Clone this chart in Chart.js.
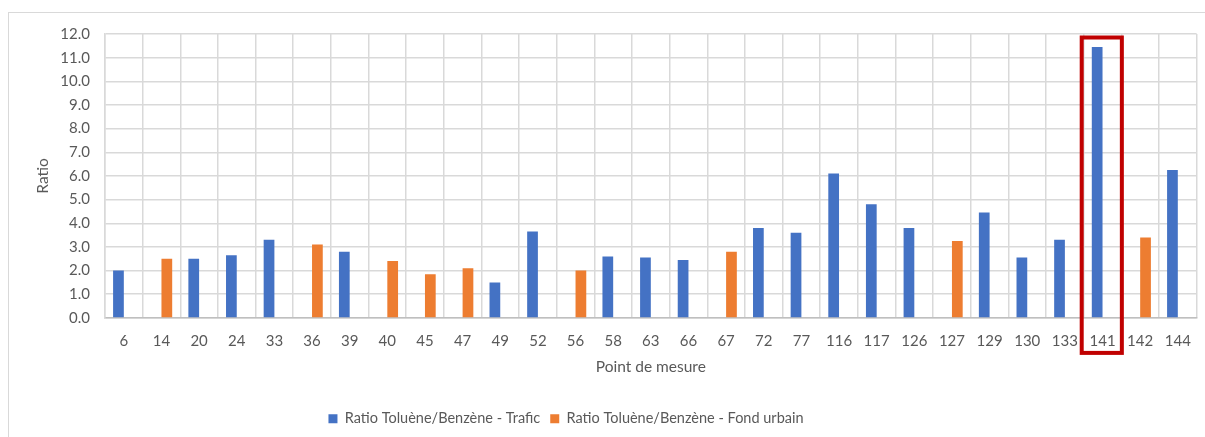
<!DOCTYPE html>
<html>
<head>
<meta charset="utf-8">
<script src="https://cdn.jsdelivr.net/npm/chart.js@4/dist/chart.umd.min.js"></script>
<style>
  html, body { margin: 0; padding: 0; background: #fff; }
  #wrap { position: absolute; left: 0; top: 0; width: 1205px; height: 437px; }
</style>
</head>
<body>
<div id="wrap"><canvas id="graf"></canvas></div>
<script>
// données
const pointsMesure = ['6', '14', '20', '24', '33', '36', '39', '40', '45', '47', '49', '52', '56', '58', '63',
  '66', '67', '72', '77', '116', '117', '126', '127', '129', '130', '133', '141', '142', '144'];

const ratioTrafic = [2.0, null, 2.5, 2.65, 3.3, null, 2.8, null, null, null, 1.5, 3.65, null, 2.6, 2.55,
  2.45, null, 3.8, 3.6, 6.1, 4.8, 3.8, null, 4.45, 2.55, 3.3, 11.45, null, 6.25];

const ratioFond = [null, 2.5, null, null, null, 3.1, null, 2.4, 1.85, 2.1, null, null, 2.0, null, null,
  null, 2.8, null, null, null, null, null, 3.25, null, null, null, null, 3.4, null];

const pointSurligne = '141';

const texte = '#595959';
const grille = '#D9D9D9';
const police = 'Lato';

// cadre gris autour du graphique
const cadre = {
  id: 'cadre',
  beforeDraw(chart) {
    const ctx = chart.ctx;
    ctx.save();
    ctx.strokeStyle = grille;
    ctx.lineWidth = 1;
    ctx.strokeRect(8.5, 12.5, chart.width + 20, chart.height + 20);
    ctx.restore();
  }
};

// rectangle rouge autour du point 141
const surligne = {
  id: 'surligne',
  afterDatasetsDraw(chart) {
    const x = chart.scales.x;
    const i = pointsMesure.indexOf(pointSurligne);
    const demi = (x.getPixelForValue(1) - x.getPixelForValue(0)) / 2;
    const centre = x.getPixelForValue(i);
    const ctx = chart.ctx;
    ctx.save();
    ctx.strokeStyle = '#C00000';
    ctx.lineWidth = 4;
    const haut = chart.chartArea.top + 3.5;
    const bas = chart.chartArea.bottom + 35;
    ctx.strokeRect(centre - demi - 2, haut, demi * 2 + 2.5, bas - haut);
    ctx.restore();
  }
};

// décale la légende comme dans l'original
const legendeDecalee = {
  id: 'legendeDecalee',
  afterLayout(chart) {
    const l = chart.legend;
    const dx = 566 - (l.left + l.right) / 2;
    l.left += dx;
    l.right += dx;
  }
};

new Chart(document.getElementById('graf'), {
  type: 'bar',
  data: {
    labels: pointsMesure,
    datasets: [
      {
        label: 'Ratio Toluène/Benzène - Trafic',
        data: ratioTrafic,
        backgroundColor: '#4472C4',
        barPercentage: 1,
        categoryPercentage: 0.57
      },
      {
        label: 'Ratio Toluène/Benzène - Fond urbain',
        data: ratioFond,
        backgroundColor: '#ED7D31',
        barPercentage: 1,
        categoryPercentage: 0.57
      }
    ]
  },
  options: {
    responsive: true,
    maintainAspectRatio: false,
    animation: false,
    layout: { padding: { top: 34, right: 8, left: 0, bottom: 1 } },
    plugins: {
      tooltip: { enabled: false },
      legend: {
        position: 'bottom',
        labels: {
          boxWidth: 9,
          boxHeight: 9,
          padding: 10,
          color: texte,
          font: { family: police, size: 14.5 }
        }
      }
    },
    scales: {
      x: {
        grid: { color: grille, lineWidth: 1.5, drawTicks: false, offset: true },
        border: { color: '#BFBFBF', width: 1.5 },
        ticks: { color: texte, padding: 14, font: { family: police, size: 15 }, maxRotation: 0, autoSkip: false },
        title: {
          display: true,
          text: 'Point de mesure',
          color: texte,
          padding: { top: -6, bottom: 25 },
          font: { family: police, size: 15.5 }
        }
      },
      y: {
        min: 0,
        max: 12,
        afterFit(scale) { scale.width = 105; },
        grid: { color: grille, lineWidth: 1.5, drawTicks: false },
        border: { color: grille, width: 1.5 },
        ticks: {
          stepSize: 1,
          color: texte,
          padding: 15,
          font: { family: police, size: 15 },
          callback: v => v.toFixed(1)
        },
        title: {
          display: true,
          text: 'Ratio',
          color: texte,
          padding: { top: 34, bottom: 0 },
          font: { family: police, size: 15.5 }
        }
      }
    }
  },
  plugins: [cadre, surligne, legendeDecalee]
});
</script>
</body>
</html>
